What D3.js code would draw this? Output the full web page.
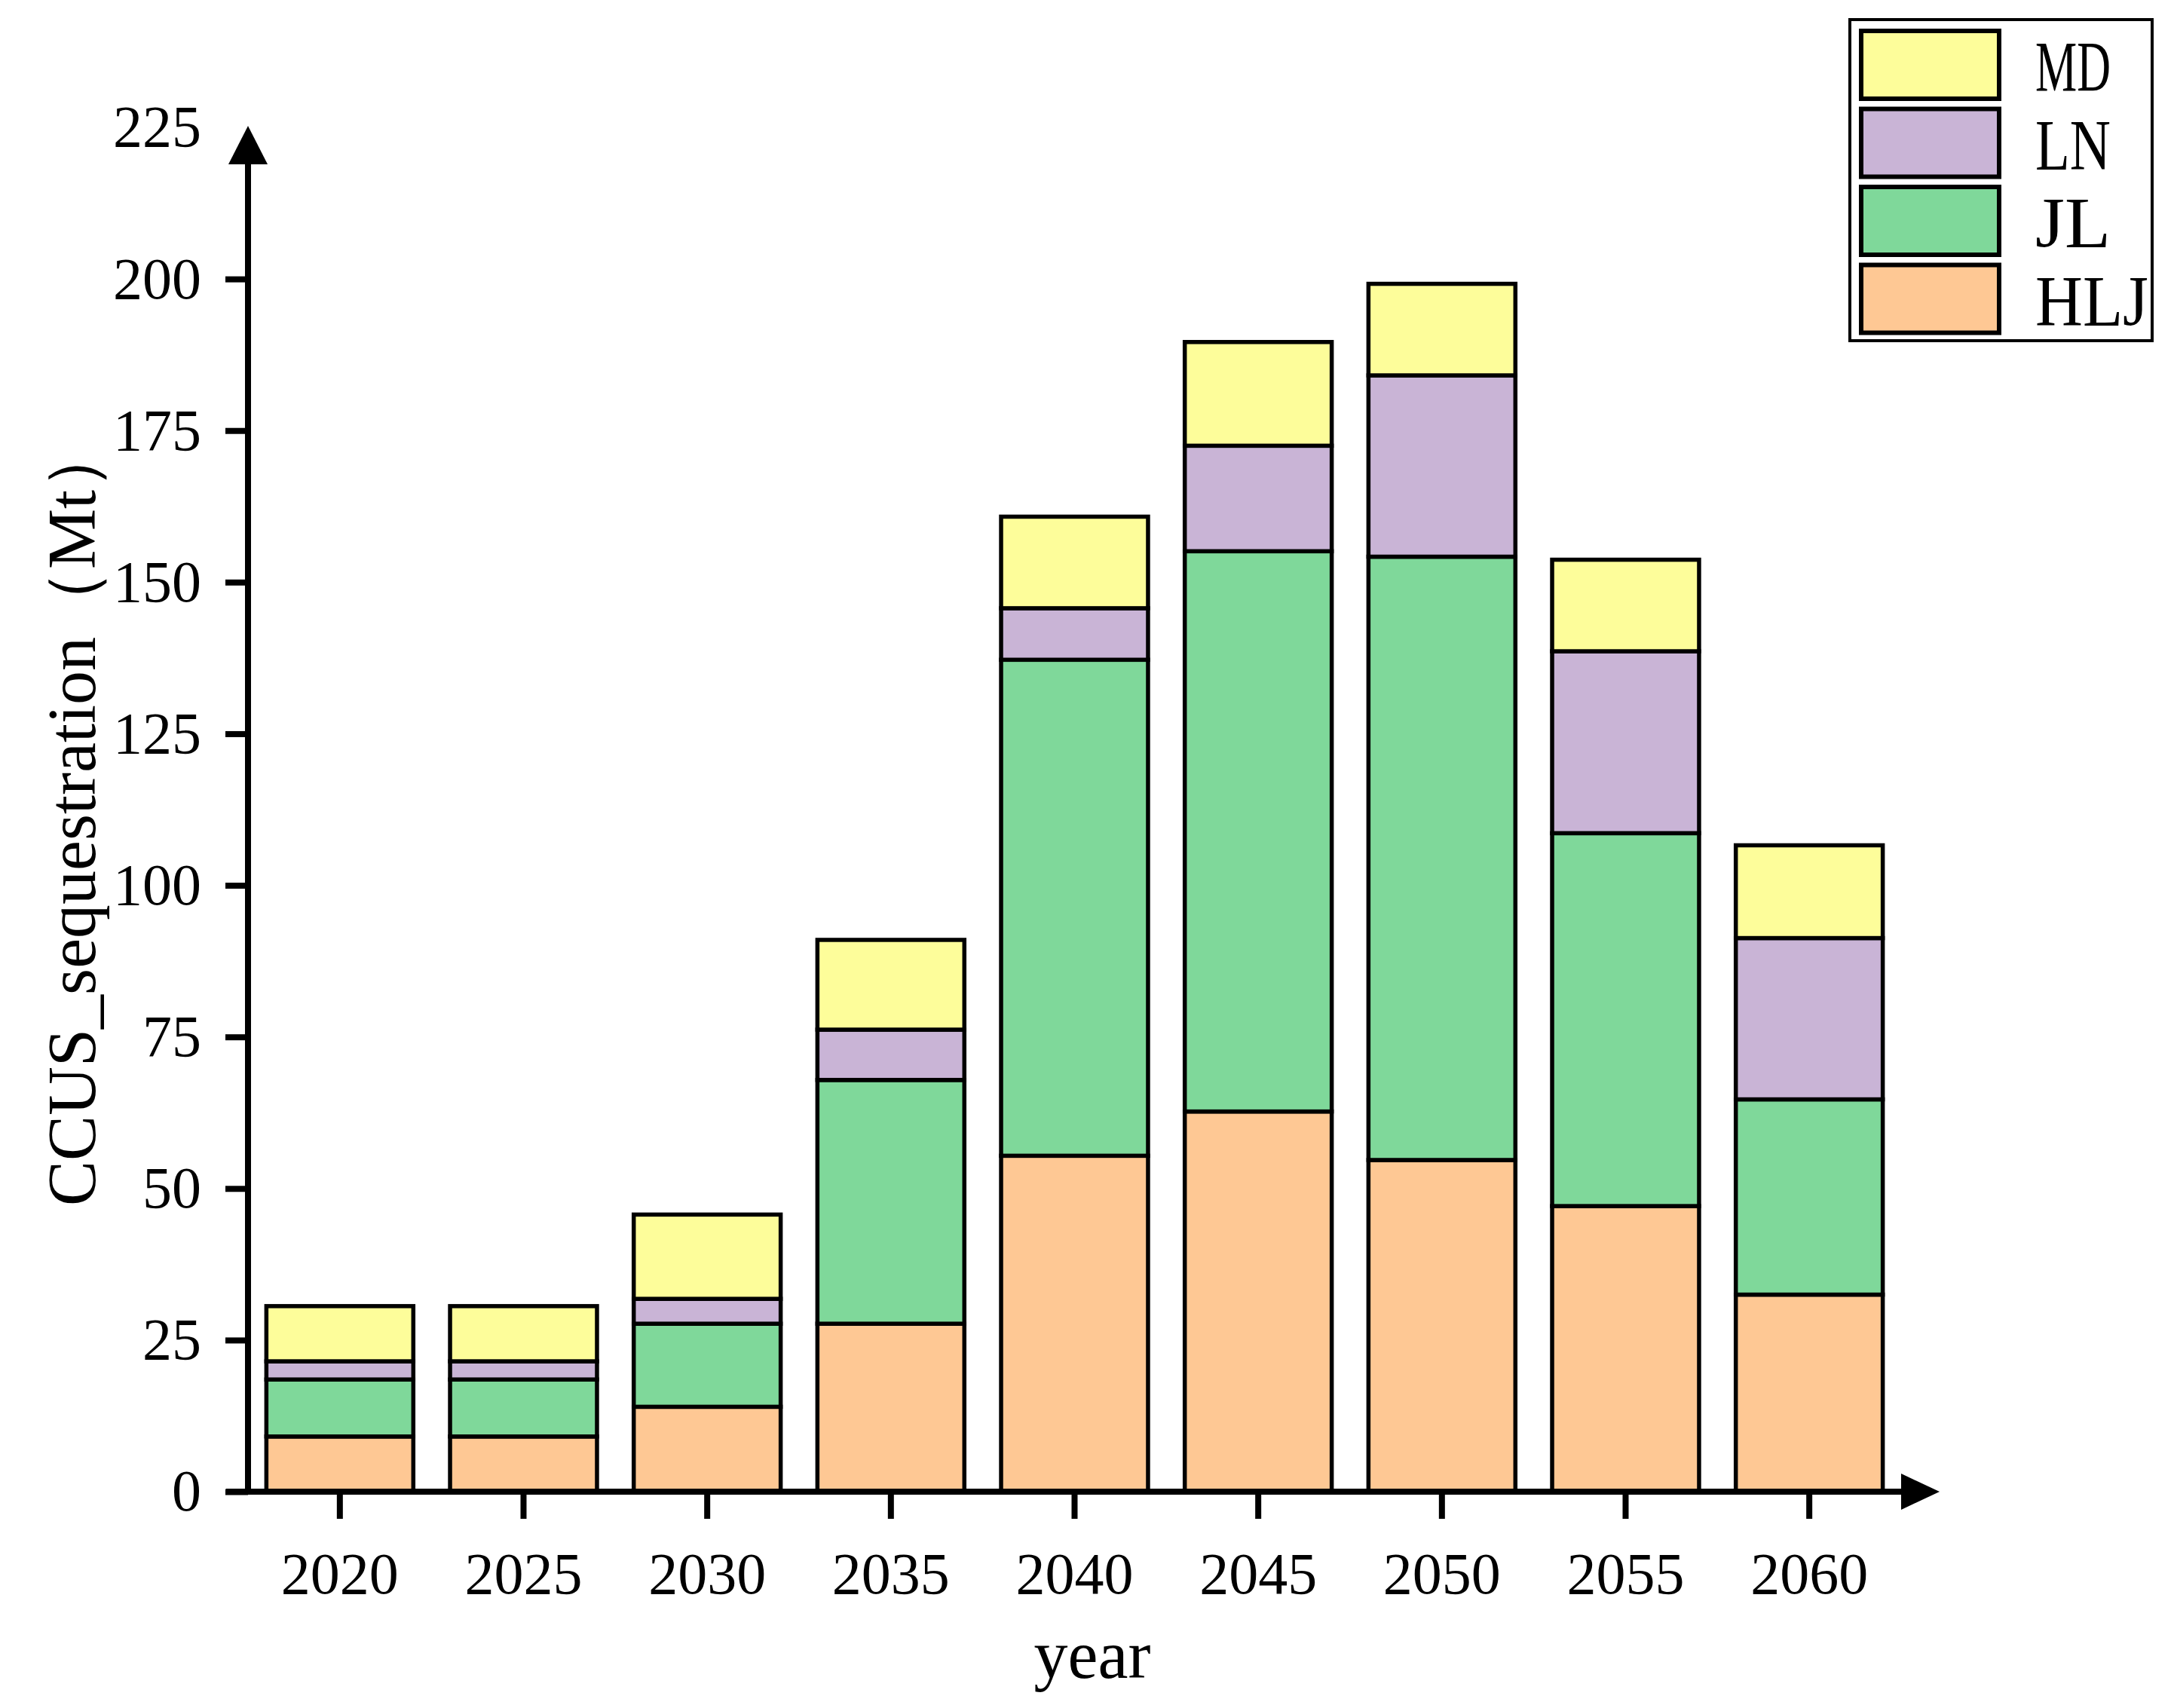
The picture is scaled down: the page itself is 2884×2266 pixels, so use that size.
<!DOCTYPE html>
<html>
<head>
<meta charset="utf-8">
<script src="https://cdn.jsdelivr.net/npm/d3@7"></script>
<style>
  html, body { margin: 0; padding: 0; background: #fff; }
  svg { display: block; }
  text { font-family: "Liberation Serif", "DejaVu Serif", serif; fill: #000; }
</style>
</head>
<body>
<svg id="chart" width="2884" height="2266"></svg>
<script>
// ---- data ----
const years = ["2020", "2025", "2030", "2035", "2040", "2045", "2050", "2055", "2060"];
const seriesNames = ["HLJ", "JL", "LN", "MD"];
const HLJ = [9.1, 9.1, 14.0, 27.7, 55.4, 62.7, 54.7, 47.1, 32.5];
const JL  = [9.4, 9.4, 13.7, 40.2, 81.8, 92.4, 99.5, 61.5, 32.2];
const LN  = [3.0, 3.0, 4.1, 8.3, 8.5, 17.4, 29.9, 30.0, 26.6];
const MD  = [9.1, 9.1, 13.9, 14.8, 15.1, 17.1, 15.1, 15.1, 15.3];
const yTicks = [0, 25, 50, 75, 100, 125, 150, 175, 200, 225];
const colors = { HLJ: "#FEC894", JL: "#7FD89A", LN: "#C9B4D6", MD: "#FDFD9A" };
const legendOrder = ["MD", "LN", "JL", "HLJ"];

// ---- layout ----
const svg = d3.select("#chart");
svg.append("rect").attr("width", 2884).attr("height", 2266).attr("fill", "#fff");

const axisX = 329, axisY = 1979;
const x = d3.scaleBand().domain(years).range([axisX, 2522]).paddingInner(0.2).paddingOuter(0.1);
const y = d3.scaleLinear().domain([0, 225]).range([axisY, 169]);

const rows = years.map((yr, i) => ({ year: yr, HLJ: HLJ[i], JL: JL[i], LN: LN[i], MD: MD[i] }));
const stacked = d3.stack().keys(seriesNames)(rows);

// bars
const g = svg.append("g");
g.selectAll("g.series").data(stacked).join("g")
  .attr("fill", d => colors[d.key])
  .selectAll("rect").data(d => d).join("rect")
  .attr("x", d => x(d.data.year))
  .attr("width", x.bandwidth())
  .attr("y", d => y(d[1]))
  .attr("height", d => y(d[0]) - y(d[1]))
  .attr("stroke", "#000")
  .attr("stroke-width", 5.5);

// y axis ticks + labels
const yAxis = d3.axisLeft(y).tickValues(yTicks).tickSize(30).tickPadding(32).tickFormat(d3.format("d"));
const gy = svg.append("g").attr("transform", `translate(${axisX},0)`).call(yAxis);
gy.select(".domain").remove();
gy.selectAll(".tick line").attr("stroke", "#000").attr("stroke-width", 8)
  .filter(d => d === 225).remove();
gy.selectAll(".tick text").attr("font-size", 78).attr("font-family", "Liberation Serif, serif");

// x axis ticks + labels
const xAxis = d3.axisBottom(x).tickSize(36).tickPadding(44);
const gx = svg.append("g").attr("transform", `translate(0,${axisY})`).call(xAxis);
gx.select(".domain").remove();
gx.selectAll(".tick line").attr("stroke", "#000").attr("stroke-width", 8);
gx.selectAll(".tick text").attr("font-size", 78).attr("font-family", "Liberation Serif, serif");

// axis lines with arrows
svg.append("line").attr("x1", 300).attr("x2", 2530).attr("y1", axisY).attr("y2", axisY)
  .attr("stroke", "#000").attr("stroke-width", 8);
svg.append("path").attr("d", `M2522,${axisY - 24} L2573,${axisY} L2522,${axisY + 24} Z`).attr("fill", "#000");
svg.append("line").attr("x1", axisX).attr("x2", axisX).attr("y1", axisY + 4).attr("y2", 212)
  .attr("stroke", "#000").attr("stroke-width", 8);
svg.append("path").attr("d", `M${axisX - 26},218 L${axisX},167 L${axisX + 26},218 Z`).attr("fill", "#000");

// axis titles
svg.append("text").attr("x", 1449).attr("y", 2226).attr("text-anchor", "middle")
  .attr("font-size", 90).text("year");
svg.append("text").attr("transform", "translate(126,1080) rotate(-90)")
  .attr("font-size", 90).attr("text-anchor", "middle").text("CCUS_sequestration（Mt）");

// legend
const lg = svg.append("g");
lg.append("rect").attr("x", 2454).attr("y", 26).attr("width", 401).attr("height", 426)
  .attr("fill", "#fff").attr("stroke", "#000").attr("stroke-width", 4);
legendOrder.forEach((k, i) => {
  const top = 41 + i * 103.5;
  lg.append("rect").attr("x", 2469).attr("y", top).attr("width", 183).attr("height", 90)
    .attr("fill", colors[k]).attr("stroke", "#000").attr("stroke-width", 6);
  lg.append("text").attr("x", 2700).attr("y", top + 80).attr("font-size", 96)
    .attr("textLength", k.length * 50).attr("lengthAdjust", "spacingAndGlyphs").text(k);
});
</script>
</body>
</html>
